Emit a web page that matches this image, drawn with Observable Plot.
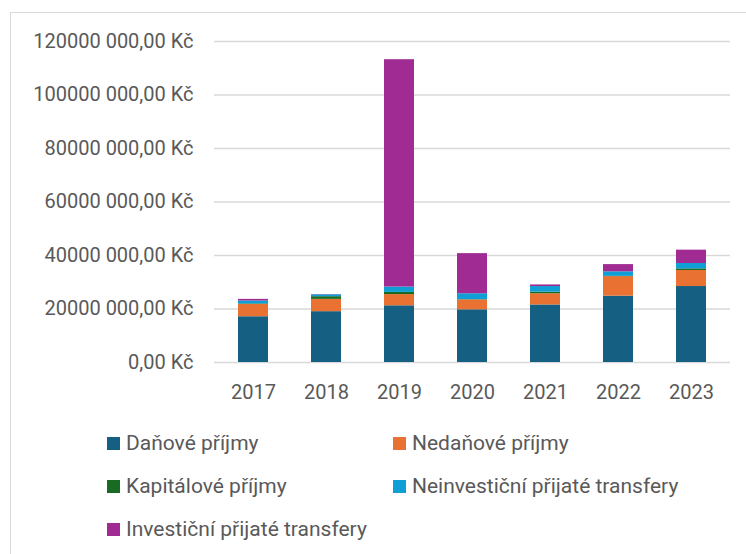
<!DOCTYPE html>
<html>
<head>
<meta charset="utf-8">
<script src="https://cdn.jsdelivr.net/npm/d3@7"></script>
<script src="https://cdn.jsdelivr.net/npm/@observablehq/plot@0.6"></script>
<style>
  html, body { margin: 0; padding: 0; background: #fff; }
  #wrap { position: relative; width: 746px; height: 554px; overflow: hidden; font-family: Roboto, sans-serif; color: #595959; }
  #frame { position: absolute; left: 10px; top: 12px; width: 800px; height: 600px; border: 1px solid #d9d9d9; box-sizing: border-box; }
  #chart { position: absolute; left: 0; top: 0; }
  .lg { position: absolute; display: flex; align-items: center; font-size: 21px; white-space: nowrap; line-height: 1; }
  .lg span.sw { display: inline-block; width: 13px; height: 13px; margin-right: 6px; }
</style>
</head>
<body>
<div id="wrap">
  <div id="frame"></div>
  <div id="chart"></div>
  <div id="legend"></div>
</div>
<script>
const years = ["2017", "2018", "2019", "2020", "2021", "2022", "2023"];
const seriesNames = ["Daňové příjmy", "Nedaňové příjmy", "Kapitálové příjmy", "Neinvestiční přijaté transfery", "Investiční přijaté transfery"];
const seriesColors = ["#156082", "#E97132", "#196B24", "#0F9ED5", "#A02B93"];

const danovePrijmy        = [17100000, 19000000, 21200000, 19700000, 21500000, 24800000, 28400000];
const nedanovePrijmy      = [4600000, 4600000, 4200000, 3700000, 4200000, 7300000, 6000000];
const kapitalovePrijmy    = [200000, 1000000, 800000, 100000, 600000, 100000, 600000];
const neinvesticniTransf  = [1100000, 700000, 2000000, 2200000, 2100000, 1700000, 2000000];
const investicniTransf    = [600000, 100000, 85000000, 15000000, 600000, 2700000, 5000000];

const yTicks = [0, 20000000, 40000000, 60000000, 80000000, 100000000, 120000000];
const yTickLabels = ["0,00 Kč", "20000 000,00 Kč", "40000 000,00 Kč", "60000 000,00 Kč", "80000 000,00 Kč", "100000 000,00 Kč", "120000 000,00 Kč"];

const seriesValues = [danovePrijmy, nedanovePrijmy, kapitalovePrijmy, neinvesticniTransf, investicniTransf];
const rows = [];
seriesNames.forEach((s, si) => {
  years.forEach((y, yi) => rows.push({year: y, series: s, value: seriesValues[si][yi]}));
});

const chart = Plot.plot({
  width: 746,
  height: 410,
  marginLeft: 214,
  marginRight: 16,
  marginTop: 41,
  marginBottom: 48,
  style: {fontFamily: "Roboto, sans-serif", fontSize: "20px", color: "#595959", background: "transparent"},
  x: {domain: years, paddingInner: 0.59, paddingOuter: 0.295, label: null},
  y: {domain: [0, 120000000], label: null},
  color: {domain: seriesNames, range: seriesColors},
  marks: [
    Plot.gridY(yTicks, {stroke: "#d9d9d9", strokeOpacity: 1, strokeWidth: 1.5}),
    Plot.axisY({ticks: yTicks, tickFormat: (d) => yTickLabels[yTicks.indexOf(d)], tickSize: 0, tickPadding: 21, label: null, fill: "#595959", fontSize: 20}),
    Plot.axisX({tickSize: 0, tickPadding: 22, label: null, fill: "#595959", fontSize: 20}),
    Plot.barY(rows, {x: "year", y: "value", fill: "series", order: seriesNames})
  ]
});
document.getElementById("chart").appendChild(chart);

// legend
const legendPos = [
  {x: 107, y: 443}, {x: 393, y: 443},
  {x: 107, y: 486}, {x: 393, y: 486},
  {x: 107, y: 529}
];
const lg = document.getElementById("legend");
seriesNames.forEach((s, i) => {
  const d = document.createElement("div");
  d.className = "lg";
  d.style.left = legendPos[i].x + "px";
  d.style.top = (legendPos[i].y - 11) + "px";
  d.style.height = "22px";
  const sw = document.createElement("span");
  sw.className = "sw";
  sw.style.background = seriesColors[i];
  d.appendChild(sw);
  d.appendChild(document.createTextNode(s));
  lg.appendChild(d);
});
</script>
</body>
</html>
